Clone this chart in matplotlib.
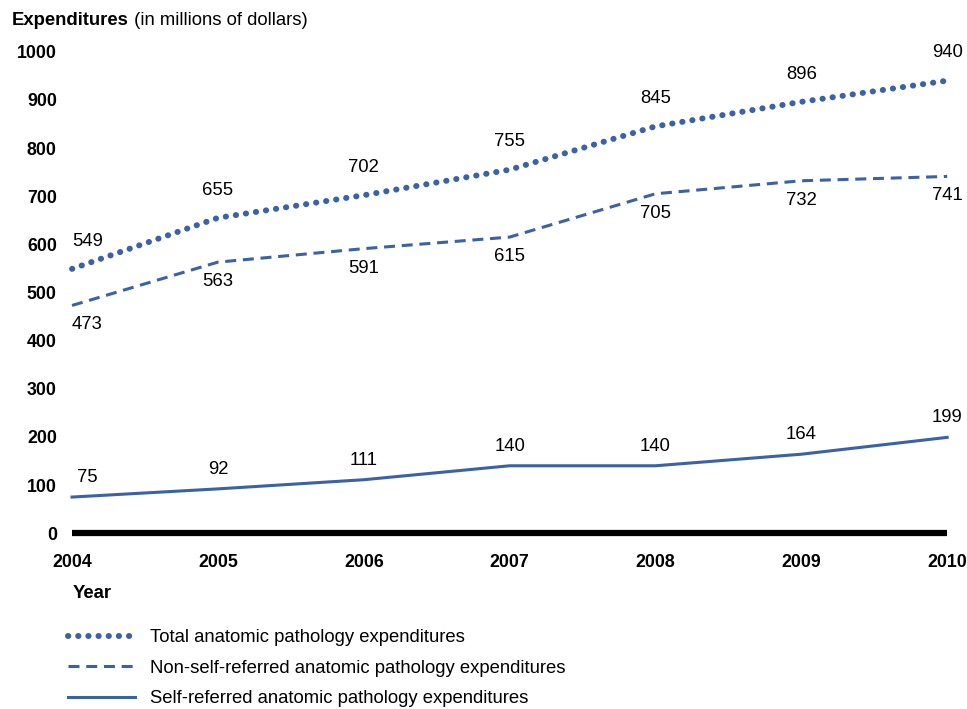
import matplotlib
matplotlib.use('Agg')
import matplotlib.pyplot as plt

plt.rcParams['font.family'] = ['Liberation Sans', 'DejaVu Sans']

years = [2004, 2005, 2006, 2007, 2008, 2009, 2010]
total = [549, 655, 702, 755, 845, 896, 940]
non_self = [473, 563, 591, 615, 705, 732, 741]
self_ref = [75, 92, 111, 140, 140, 164, 199]

labels = ['Total anatomic pathology expenditures',
          'Non-self-referred anatomic pathology expenditures',
          'Self-referred anatomic pathology expenditures']

blue = '#3A62A5'
fs = 13.3

fig = plt.figure(figsize=(9.67, 7.09), dpi=100)
ax = fig.add_axes([0.0745, 0.248, 0.905, 0.679])

l1, = ax.plot(years, total, color=blue, lw=4.3, linestyle=(0, (0.05, 1.65)),
              dash_capstyle='round', clip_on=False)
l2, = ax.plot(years, non_self, color=blue, lw=2.2, linestyle=(0, (3.6, 2.2)), clip_on=False)
l3, = ax.plot(years, self_ref, color=blue, lw=2.2, clip_on=False)

# value labels: total above, non-self below, self above
for series, dy in [(total, 20), (non_self, -14), (self_ref, 14)]:
    for x, v in zip(years, series):
        dx = 11 if x == years[0] else 0
        ax.annotate(str(v), (x, v), xytext=(dx, dy), textcoords='offset points',
                    ha='center', va='center', fontsize=fs)

ax.set_xlim(2004, 2010)
ax.set_ylim(0, 1000)
ax.set_xticks(years)
ax.set_yticks(range(0, 1001, 100))
ax.tick_params(length=0)
ax.tick_params(axis='y', pad=11, labelsize=12.8)
ax.tick_params(axis='x', pad=15, labelsize=12.8)
for t in ax.get_xticklabels() + ax.get_yticklabels():
    t.set_fontweight('bold')

for s in ['top', 'right', 'left']:
    ax.spines[s].set_visible(False)
ax.spines['bottom'].set_linewidth(4.5)
ax.spines['bottom'].set_capstyle('butt')

# axis titles
t = fig.text(12 / 967, 1 - 25 / 709, 'Expenditures', fontsize=fs, fontweight='bold',
             ha='left', va='baseline')
fig.canvas.draw()
ax.annotate(' (in millions of dollars)', xy=(1, 0), xycoords=t, va='bottom',
            ha='left', fontsize=fs)
fig.text(73 / 967, 1 - 594 / 709, 'Year', fontsize=fs, fontweight='bold',
         ha='left', va='center')

fig.legend([l1, l2, l3], labels, loc='upper left', bbox_to_anchor=(68 / 967, 1 - 629 / 709),
           frameon=False, fontsize=fs, handlelength=3.6, handletextpad=0.85,
           labelspacing=0.74, borderaxespad=0, borderpad=0)

fig.savefig('out.png', dpi=100)
